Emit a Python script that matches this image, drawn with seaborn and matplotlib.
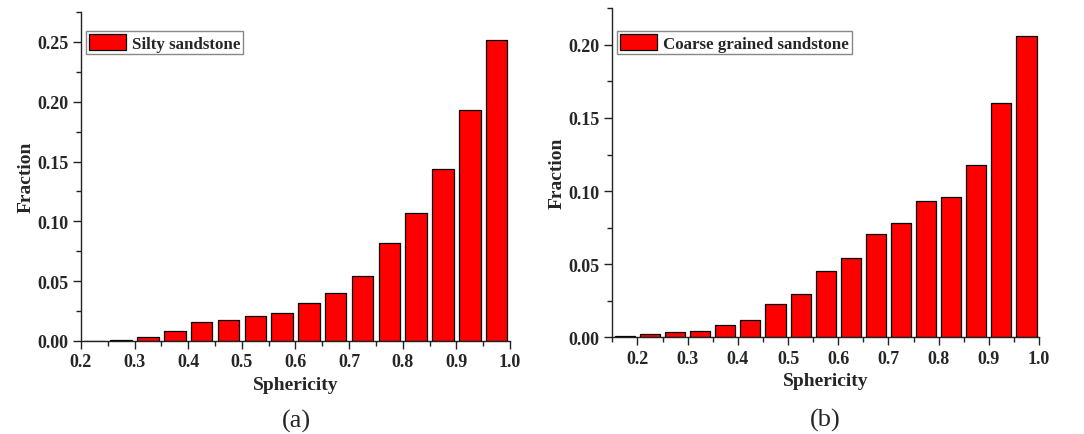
import numpy as np
import pandas as pd
import matplotlib
matplotlib.use("Agg")
import matplotlib.pyplot as plt
from matplotlib.ticker import MultipleLocator, FormatStrFormatter
import seaborn as sns

# Sphericity bin centres (bin width 0.05) and fractions per rock type
silty_sphericity = [0.225, 0.275, 0.325, 0.375, 0.425, 0.475, 0.525, 0.575,
                    0.625, 0.675, 0.725, 0.775, 0.825, 0.875, 0.925, 0.975]
silty_fraction = [0.0003, 0.0008, 0.0036, 0.0086, 0.0159, 0.0178, 0.0212, 0.0237,
                  0.0318, 0.0404, 0.0543, 0.0819, 0.1073, 0.1441, 0.1931, 0.2520]

coarse_sphericity = [0.175, 0.225, 0.275, 0.325, 0.375, 0.425, 0.475, 0.525, 0.575,
                     0.625, 0.675, 0.725, 0.775, 0.825, 0.875, 0.925, 0.975]
coarse_fraction = [0.0007, 0.0021, 0.0034, 0.0043, 0.0082, 0.0116, 0.0226, 0.0294, 0.0451,
                   0.0542, 0.0704, 0.0779, 0.0929, 0.0957, 0.1178, 0.1604, 0.2059]

sns.set_style("ticks")
plt.rcParams['font.family'] = ['Liberation Serif', 'DejaVu Serif']
plt.rcParams['font.weight'] = 'bold'

fig = plt.figure(figsize=(10.84, 4.35), dpi=100)
ax_a = fig.add_axes([0.0747, 0.2138, 0.3958, 0.7562])
ax_b = fig.add_axes([0.5649, 0.2223, 0.3936, 0.7563])


def draw_panel(ax, x, y, label, xlim, ylim, ymajor, legend_y):
    df = pd.DataFrame({"Sphericity": x, "Fraction": y})
    sns.barplot(data=df, x="Sphericity", y="Fraction", native_scale=True,
                width=0.8, color="#ff0000", saturation=1, edgecolor="black",
                linewidth=0.9, label=label, ax=ax)
    ax.set_xlim(*xlim)
    ax.set_ylim(0, ylim)
    ax.xaxis.set_major_locator(MultipleLocator(0.1))
    ax.xaxis.set_minor_locator(MultipleLocator(0.05))
    ax.yaxis.set_major_locator(MultipleLocator(ymajor))
    ax.yaxis.set_minor_locator(MultipleLocator(ymajor / 2))
    ax.xaxis.set_major_formatter(FormatStrFormatter("%.1f"))
    ax.yaxis.set_major_formatter(FormatStrFormatter("%.2f"))
    ax.tick_params(which="major", direction="out", length=6, width=1,
                   labelsize=13, pad=3, color="#222222")
    ax.tick_params(which="minor", direction="out", length=3.5, width=1,
                   color="#222222")
    for t in ax.get_xticklabels() + ax.get_yticklabels():
        t.set_fontweight("bold")
    for s in ("top", "right"):
        ax.spines[s].set_visible(False)
    for s in ("left", "bottom"):
        ax.spines[s].set_linewidth(1)
        ax.spines[s].set_color("#222222")
    ax.set_xlabel("Sphericity", fontsize=14, fontweight="bold", labelpad=4)
    ax.set_ylabel("Fraction", fontsize=14, fontweight="bold", labelpad=2)
    leg = ax.legend(loc="upper left", bbox_to_anchor=(0.0, legend_y), fancybox=False,
                    framealpha=1, edgecolor="#888888", handlelength=2.2,
                    handleheight=1.1, handletextpad=0.35, borderpad=0.15,
                    borderaxespad=0.3, prop={"size": 12.2, "weight": "bold"})
    leg.get_frame().set_linewidth(1)


draw_panel(ax_a, silty_sphericity, silty_fraction, "Silty sandstone",
           (0.2, 1.0), 0.275, 0.05, 0.957)
draw_panel(ax_b, coarse_sphericity, coarse_fraction, "Coarse grained sandstone",
           (0.15, 1.0), 0.225, 0.05, 0.945)

fig.text(0.2737, 0.031, "(a)", ha="center", va="center", fontsize=19,
         fontweight="normal")
fig.text(0.761, 0.034, "(b)", ha="center", va="center", fontsize=19,
         fontweight="normal")

fig.savefig("out.png", dpi=100)
